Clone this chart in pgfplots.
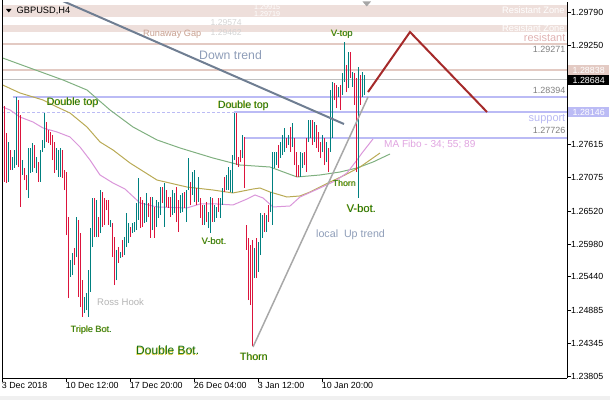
\documentclass[border=0pt]{standalone}
\usepackage{fontspec}
\setmainfont{Liberation Sans}
\usepackage{pgfplots}
\usepackage{pgfplotstable}
\pgfplotsset{compat=1.18}
\definecolor{bull}{HTML}{008080}
\definecolor{bear}{HTML}{DC143C}
\definecolor{zone}{HTML}{EEDFDB}
\definecolor{resline}{HTML}{E3CAC3}
\definecolor{lav}{HTML}{BBBBF5}
\definecolor{curgrey}{HTML}{C0C0C0}
\definecolor{dtrend}{HTML}{6F7E92}
\definecolor{utrend}{HTML}{A8A8A8}
\definecolor{zig}{HTML}{A52A2A}
\definecolor{maG}{HTML}{80B080}
\definecolor{maO}{HTML}{B9AA55}
\definecolor{maP}{HTML}{DA96DA}
\definecolor{txtblue}{HTML}{8E9DB8}
\definecolor{txtgap}{HTML}{C8A090}
\definecolor{txtres}{HTML}{E0B2B2}
\definecolor{txtsup}{HTML}{B8B8F2}
\definecolor{txtma}{HTML}{E0A4E0}
\definecolor{txtgrey}{HTML}{808080}
\definecolor{txtross}{HTML}{B4B4B4}
\definecolor{patgreen}{HTML}{167016}
\definecolor{patshadow}{HTML}{D8C830}
\definecolor{faint}{HTML}{D4D4D4}

% bullish bars: index, high, low
\pgfplotstableread{
x hi lo
0 1.27855 1.27608
3 1.27657 1.27000
5 1.27411 1.27197
6 1.27526 1.27230
7 1.28397 1.27279
10 1.27361 1.27115
13 1.27559 1.26737
14 1.27559 1.27148
15 1.27641 1.27164
17 1.27411 1.27148
19 1.27526 1.27000
20 1.27690 1.27493
21 1.28134 1.27559
27 1.27559 1.27197
28 1.27526 1.27082
29 1.27559 1.27082
34 1.25717 1.25438
35 1.25832 1.25470
37 1.26424 1.25766
41 1.25109 1.24846
42 1.25174 1.24895
43 1.25553 1.24780
44 1.26243 1.25191
45 1.26737 1.25931
47 1.26704 1.26095
49 1.26868 1.26161
54 1.26375 1.26260
57 1.25882 1.25388
59 1.25849 1.25750
61 1.26095 1.25799
62 1.26490 1.25931
63 1.26325 1.25997
65 1.26325 1.26161
66 1.26342 1.26178
67 1.26654 1.26210
68 1.27065 1.26375
71 1.26654 1.26325
72 1.26819 1.26342
75 1.26753 1.26210
77 1.26704 1.26260
78 1.26671 1.26408
79 1.26917 1.26457
81 1.26983 1.26260
85 1.26868 1.26457
86 1.26819 1.26490
89 1.26786 1.26490
90 1.26819 1.26506
92 1.26868 1.26342
93 1.27394 1.26868
95 1.27164 1.26786
96 1.27197 1.26671
98 1.27082 1.26671
101 1.26621 1.26293
103 1.26506 1.26243
104 1.26753 1.26161
106 1.26621 1.26342
107 1.26589 1.26408
109 1.26737 1.26408
110 1.26901 1.26621
112 1.27115 1.26868
113 1.27246 1.26868
114 1.27197 1.26835
115 1.27443 1.26819
116 1.28134 1.27361
120 1.27772 1.27394
126 1.25914 1.25421
128 1.26013 1.25520
129 1.26490 1.25799
130 1.26457 1.26079
132 1.26457 1.26178
134 1.26835 1.26506
135 1.27493 1.26293
136 1.27493 1.27230
137 1.27493 1.27279
139 1.27657 1.27394
140 1.27772 1.27443
141 1.27887 1.27493
143 1.27772 1.27608
145 1.27970 1.27575
149 1.27493 1.27082
150 1.27476 1.27230
153 1.28019 1.27657
154 1.28019 1.27723
156 1.27986 1.27657
160 1.27772 1.27493
162 1.27657 1.27328
164 1.28512 1.27493
165 1.28644 1.27723
168 1.28562 1.28397
170 1.28792 1.28430
171 1.29301 1.28644
173 1.29137 1.28545
175 1.28808 1.28562
178 1.28890 1.26737
180 1.28808 1.28397
181 1.28759 1.28430
}\bulltab

% bearish bars: index, high, low
\pgfplotstableread{
x hi lo
1 1.28249 1.27000
2 1.27805 1.26983
4 1.27526 1.27197
8 1.28348 1.27246
9 1.28101 1.26589
11 1.27230 1.27032
12 1.27115 1.26868
16 1.27608 1.27230
18 1.27328 1.27000
22 1.27986 1.27657
23 1.27855 1.27641
24 1.27822 1.27608
25 1.27772 1.27361
26 1.27657 1.27148
30 1.27526 1.27065
31 1.27197 1.26868
32 1.27164 1.26128
33 1.26424 1.25092
36 1.25914 1.25635
38 1.26375 1.25109
39 1.26161 1.24944
40 1.25388 1.24780
46 1.26737 1.26095
48 1.26424 1.26095
50 1.26835 1.26260
51 1.26737 1.26293
52 1.26704 1.26539
53 1.26704 1.26293
55 1.26325 1.25766
56 1.26095 1.25306
58 1.25931 1.25668
60 1.26046 1.25766
64 1.26260 1.26095
69 1.26753 1.26243
70 1.26704 1.26260
73 1.26654 1.26424
74 1.26753 1.26079
76 1.26589 1.26079
80 1.26917 1.26654
82 1.26868 1.26589
83 1.26753 1.26572
84 1.26753 1.26424
87 1.26917 1.26342
88 1.26704 1.26178
91 1.26835 1.26572
94 1.27000 1.26621
97 1.26901 1.26621
99 1.26737 1.26408
100 1.26621 1.26293
102 1.26671 1.26342
105 1.26737 1.26342
108 1.26737 1.26506
111 1.27082 1.26835
117 1.28134 1.27279
118 1.27411 1.27246
119 1.27526 1.27328
121 1.27739 1.26901
122 1.26293 1.25882
123 1.26079 1.25059
124 1.25964 1.24977
125 1.26046 1.24303
127 1.26079 1.25421
131 1.26490 1.26178
133 1.26621 1.26342
138 1.27608 1.27230
142 1.27723 1.27559
144 1.27904 1.27493
146 1.27723 1.27279
147 1.27493 1.27082
148 1.27279 1.27082
151 1.27493 1.27279
152 1.27723 1.27164
155 1.28019 1.27608
157 1.27937 1.27559
158 1.27822 1.27493
159 1.27657 1.27394
161 1.27723 1.27279
163 1.27559 1.27164
166 1.28627 1.28348
167 1.28594 1.28216
169 1.28594 1.28183
172 1.28923 1.28479
174 1.29137 1.28710
176 1.28792 1.28266
177 1.28710 1.27164
179 1.28759 1.28266
}\beartab

\newcommand{\pat}[4]{%
  \node[anchor=west,inner sep=0pt,text=patshadow,font=\fontsize{#3}{#3}\selectfont] at (#1-0.6,#2+0.3) {#4};
  \node[anchor=west,inner sep=0pt,text=patgreen,font=\fontsize{#3}{#3}\selectfont] at (#1,#2) {#4};}
\newcommand{\txt}[5]{%
  \node[anchor=west,inner sep=0pt,text=#4,font=\fontsize{#3}{#3}\selectfont] at (#1,#2) {#5};}

\begin{document}
\begin{tikzpicture}
\useasboundingbox (0,0) rectangle (610bp,400bp);
\begin{axis}[
  at={(2bp,22bp)}, anchor=south west, scale only axis,
  width=565bp, height=376bp,
  xmin=-0.35, xmax=282.15, ymin=1.23777, ymax=1.29959,
  axis x line*=bottom, axis y line*=right,
  axis line style={line width=1bp, black},
  tick align=outside, major tick length=4bp,
  major tick style={line width=1bp, black},
  xtick={0,32,64,96,128,160},
  xticklabels={3 Dec 2018,10 Dec 12:00,17 Dec 20:00,26 Dec 04:00,3 Jan 12:00,10 Jan 20:00},
  ytick={1.29790,1.29250,1.27615,1.27075,1.26520,1.25980,1.25440,1.24885,1.24345,1.23805},
  yticklabels={1.29790,1.29250,1.27615,1.27075,1.26520,1.25980,1.25440,1.24885,1.24345,1.23805},
  ticklabel style={font=\fontsize{8.9}{10}\selectfont, inner sep=0pt},
  xticklabel style={anchor=north west, xshift=-1bp},
  yticklabel style={anchor=west},
  clip=true,
]
% resistance zones
\addplot[draw=none, fill=zone, forget plot] coordinates {(-0.35,1.29719) (282.15,1.29719) (282.15,1.29915) (-0.35,1.29915)} -- cycle;
\addplot[draw=none, fill=zone, forget plot] coordinates {(-0.35,1.29462) (282.15,1.29462) (282.15,1.29574) (-0.35,1.29574)} -- cycle;
% horizontal levels
\addplot[resline, line width=2bp, forget plot] coordinates {(-0.35,1.29271) (282.15,1.29271)};
\addplot[resline, line width=2bp, forget plot] coordinates {(-0.35,1.28838) (282.15,1.28838)};
\addplot[curgrey, line width=1bp, forget plot] coordinates {(-0.35,1.28684) (282.15,1.28684)};
\addplot[lav, line width=2bp, forget plot] coordinates {(5,1.28394) (282.15,1.28394)};
\addplot[lav, line width=1bp, dash pattern=on 3bp off 2bp, forget plot] coordinates {(-0.35,1.28146) (115.5,1.28146)};
\addplot[lav, line width=2bp, forget plot] coordinates {(115.5,1.28146) (282.15,1.28146)};
\addplot[lav, line width=2bp, forget plot] coordinates {(121,1.27726) (282.15,1.27726)};
% moving averages
\addplot[maG, line width=1bp, forget plot] coordinates {
(0,1.29038) (13.65,1.28874) (30.15,1.28677) (42.15,1.28512) (53.65,1.28184) (65.15,1.27904)
(77.15,1.27691) (88.65,1.27559) (105.15,1.27394) (118.65,1.27279) (133.65,1.27246) (147.15,1.27082)
(158.65,1.27115) (168.65,1.27164) (177.15,1.27230) (185.15,1.27328) (193.65,1.27460)};
\addplot[maO, line width=1bp, forget plot] coordinates {
(0,1.28594) (8.65,1.28463) (20.15,1.28348) (27.15,1.28233) (33.65,1.28134) (42.15,1.27904)
(48.65,1.27658) (55.15,1.27526) (63.65,1.27312) (77.15,1.27032) (92.15,1.26917) (105.15,1.26868)
(115.15,1.26819) (125.15,1.26884) (128.65,1.26901) (133.65,1.26835) (142.15,1.26753) (148.65,1.26770)
(153.65,1.26835) (163.65,1.26999) (171.15,1.27115) (178.65,1.27246) (183.65,1.27361) (188.65,1.27476)};
\addplot[maP, line width=1bp, forget plot] coordinates {
(0,1.28233) (3.65,1.28184) (8.65,1.28068) (15.15,1.27986) (20.15,1.27888) (27.15,1.27822)
(33.65,1.27740) (38.65,1.27575) (43.65,1.27361) (48.65,1.27115) (55.15,1.26983) (61.15,1.26884)
(68.65,1.26655) (77.15,1.26589) (92.15,1.26573) (98.65,1.26638) (107.15,1.26638) (115.15,1.26622)
(122.15,1.26720) (126.15,1.26786) (130.15,1.26737) (135.15,1.26589) (143.65,1.26605) (148.65,1.26753)
(158.65,1.26901) (166.15,1.27016) (172.15,1.27148) (177.15,1.27361) (179.65,1.27476) (185.15,1.27707)};
% bars
\addplot[draw=none, mark=none, forget plot,
  error bars/.cd, y dir=plus, y explicit, error mark=none,
  error bar style={line width=1bp, bull}]
  table[x=x, y=lo, y error expr=\thisrow{hi}-\thisrow{lo}] {\bulltab};
\addplot[draw=none, mark=none, forget plot,
  error bars/.cd, y dir=plus, y explicit, error mark=none,
  error bar style={line width=1bp, bear}]
  table[x=x, y=lo, y error expr=\thisrow{hi}-\thisrow{lo}] {\beartab};
% trend lines
\addplot[dtrend, line width=2bp, forget plot] coordinates {(30,1.29976) (170.65,1.27953)};
\addplot[utrend, line width=1.5bp, forget plot] coordinates {(125.15,1.24287) (182.65,1.28397)};
\addplot[zig, line width=2bp, forget plot] coordinates {(182.65,1.28479) (203.65,1.29466) (242.15,1.28150)};
\end{axis}

\begin{scope}[shift={(0bp,400bp)}, x=1bp, y=-1bp]
\fill[black!6] (0,396.5) rectangle (610,400);
\draw[line width=1bp] (2,0) -- (2,378.5);
\fill[black] (6,9) -- (11.5,9) -- (8.75,12.5) -- cycle;
\fill[black!35] (362.5,1.5) -- (371,1.5) -- (366.75,6.5) -- cycle;
\txt{16.5}{10.5}{9.3}{black}{GBPUSD,H4}
% level labels
\txt{254}{6.6}{7.2}{white}{1.29915}
\txt{254}{13.8}{7.2}{white}{1.29719}
\txt{210.5}{22.8}{8.6}{faint}{1.29574}
\txt{210.5}{32.4}{8.6}{faint}{1.29462}
\txt{502}{9.7}{9.3}{white}{Resistant Zone}
\txt{502}{28}{9.3}{white}{Resistant Zone}
\txt{143}{34}{9.2}{txtgap}{Runaway Gap}
\txt{199}{55}{12.3}{txtblue}{Down trend}
\node[anchor=east,inner sep=0pt,text=txtres,font=\fontsize{11}{11}\selectfont] at (565.5,38) {resistant};
\node[anchor=east,inner sep=0pt,text=txtgrey,font=\fontsize{9}{9}\selectfont] at (565.5,49) {1.29271};
\node[anchor=east,inner sep=0pt,text=txtgrey,font=\fontsize{9}{9}\selectfont] at (565.5,90.7) {1.28394};
\node[anchor=east,inner sep=0pt,text=txtsup,font=\fontsize{11}{11}\selectfont] at (565.5,119) {support};
\node[anchor=east,inner sep=0pt,text=txtgrey,font=\fontsize{9}{9}\selectfont] at (565.5,130.7) {1.27726};
% axis boxes
\node[anchor=west,inner sep=0pt,fill=resline,text=white,minimum width=41bp,minimum height=10bp,font=\fontsize{8.9}{10}\selectfont] at (568,70.2) {1.28838};
\node[anchor=west,inner sep=0pt,fill=black,text=white,minimum width=41bp,minimum height=10bp,font=\fontsize{8.9}{10}\selectfont] at (568,80.3) {1.28684};
\node[anchor=west,inner sep=0pt,fill=lav,text=white,minimum width=41bp,minimum height=10bp,font=\fontsize{8.9}{10}\selectfont] at (568,112) {1.28146};
% pattern labels
\pat{331}{34.3}{9.3}{V-top}
\pat{46.7}{102.3}{10.7}{Double top}
\pat{218}{105.7}{10.5}{Double top}
\pat{333}{183.5}{8.7}{Thorn}
\pat{346.7}{208.3}{11.2}{V-bot.}
\pat{201.7}{241.3}{9.4}{V-bot.}
\pat{70.7}{330}{9.1}{Triple Bot.}
\pat{136}{350.5}{12.1}{Double Bot.}
\pat{240}{356.3}{10.6}{Thorn}
\txt{384}{144.7}{10.1}{txtma}{MA Fibo - 34; 55; 89}
\txt{316}{234.3}{10.7}{txtblue}{local\ \ Up trend}
\txt{97}{302.5}{9.6}{txtross}{Ross Hook}
\end{scope}
\end{tikzpicture}
\end{document}
